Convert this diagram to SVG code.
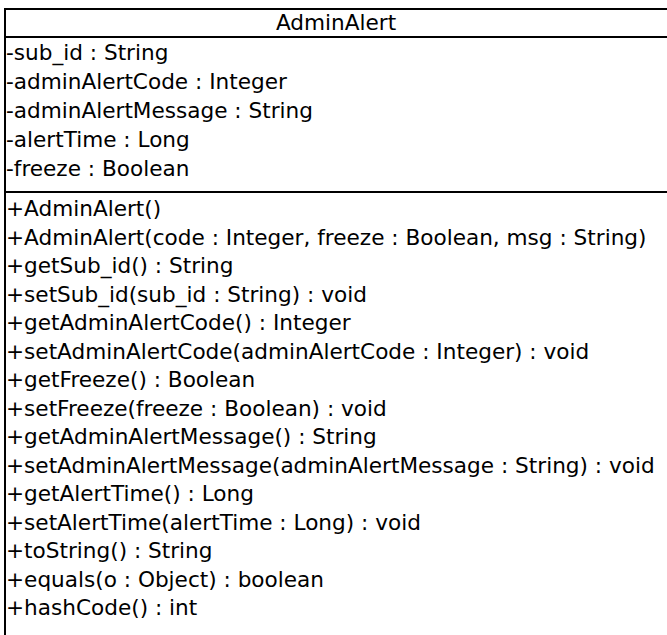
<svg xmlns="http://www.w3.org/2000/svg" width="667" height="635" viewBox="0 0 667 635">
  <style>
    .box { fill: #ffffff; stroke: #000000; stroke-width: 2; }
    .rule { stroke: #000000; stroke-width: 2; }
    .t { font-family: "DejaVu Sans", "Liberation Sans", sans-serif; font-size: 21.6px; fill: #000000; }
    .title { text-anchor: middle; }
  </style>
  <rect width="667" height="635" fill="#ffffff"/>
  <g id="AdminAlert">
    <!-- class box runs past the right and bottom edges -->
    <rect class="box" x="5" y="9" width="680" height="640"/>
    <text class="t title" x="336" y="30">AdminAlert</text>
    <line class="rule" x1="5" y1="37" x2="667" y2="37"/>
    <g id="attributes">
      <text class="t" x="6" y="60">-sub_id : String</text>
      <text class="t" x="6" y="89">-adminAlertCode : Integer</text>
      <text class="t" x="6" y="118">-adminAlertMessage : String</text>
      <text class="t" x="6" y="147">-alertTime : Long</text>
      <text class="t" x="6" y="176">-freeze : Boolean</text>
    </g>
    <line class="rule" x1="5" y1="192" x2="667" y2="192"/>
    <g id="operations">
      <text class="t" x="6" y="216">+AdminAlert()</text>
      <text class="t" x="6" y="244.5">+AdminAlert(code : Integer, freeze : Boolean, msg : String)</text>
      <text class="t" x="6" y="273">+getSub_id() : String</text>
      <text class="t" x="6" y="301.5">+setSub_id(sub_id : String) : void</text>
      <text class="t" x="6" y="330">+getAdminAlertCode() : Integer</text>
      <text class="t" x="6" y="358.5">+setAdminAlertCode(adminAlertCode : Integer) : void</text>
      <text class="t" x="6" y="387">+getFreeze() : Boolean</text>
      <text class="t" x="6" y="415.5">+setFreeze(freeze : Boolean) : void</text>
      <text class="t" x="6" y="444">+getAdminAlertMessage() : String</text>
      <text class="t" x="6" y="472.5">+setAdminAlertMessage(adminAlertMessage : String) : void</text>
      <text class="t" x="6" y="501">+getAlertTime() : Long</text>
      <text class="t" x="6" y="529.5">+setAlertTime(alertTime : Long) : void</text>
      <text class="t" x="6" y="558">+toString() : String</text>
      <text class="t" x="6" y="586.5">+equals(o : Object) : boolean</text>
      <text class="t" x="6" y="615">+hashCode() : int</text>
    </g>
  </g>
</svg>
